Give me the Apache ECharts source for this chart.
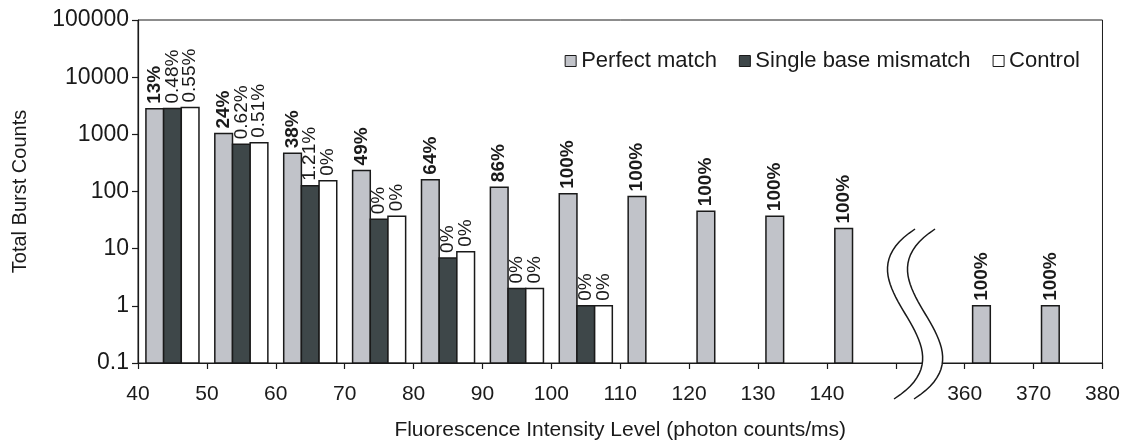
<!DOCTYPE html>
<html>
<head>
<meta charset="utf-8">
<script src="https://cdn.jsdelivr.net/npm/echarts@6/dist/echarts.min.js"></script>
<style>
html,body{margin:0;padding:0;background:#fff;}
#chart{width:1123px;height:446px;}
</style>
</head>
<body>
<div id="chart"></div>
<script>
// ---- data ----
const categories = ['40','50','60','70','80','90','100','110','120','130','140','break','360','370'];
const xTickLabels = ['40','50','60','70','80','90','100','110','120','130','140','','360','370','380'];
const yTickLabels = ['0.1','1','10','100','1000','10000','100000'];
const perfectMatch = [2800, 1030, 465, 234, 161, 119, 91, 82, 45, 37, 22.5, null, 1, 1];
const singleMismatch = [2830, 670, 126, 32.6, 6.9, 2, 1, null, null, null, null, null, null, null];
const control = [2950, 710, 154, 36.8, 8.8, 2, 1, null, null, null, null, null, null, null];
const perfectLabels = ['13%','24%','38%','49%','64%','86%','100%','100%','100%','100%','100%','','100%','100%'];
const mismatchLabels = ['0.48%','0.62%','1.21%','0%','0%','0%','0%','','','','','','',''];
const controlLabels = ['0.55%','0.51%','0%','0%','0%','0%','0%','','','','','','',''];
const seriesNames = ['Perfect match','Single base mismatch','Control'];

const FONT = '"Liberation Sans", Arial, Helvetica, sans-serif';
const INK = '#1a1a1a';
const COLORS = ['#c1c3c9', '#3e4749', '#ffffff'];
const CAT_GAP = 0.23;
const Y_BASE = 0.1;

const chart = echarts.init(document.getElementById('chart'), null, {renderer:'canvas'});

function makeSeries(k, values, labels, bold){
  const data = [];
  values.forEach((v, i) => { if (v !== null) data.push([i, v, labels[i]]); });
  return {
    name: seriesNames[k],
    type: 'custom',
    xAxisIndex: 0,
    itemStyle: {color: COLORS[k], borderColor: INK, borderWidth: 1.5},
    encode: {x: 0, y: 1},
    data: data,
    renderItem: function(params, api){
      const cat = api.value(0), val = api.value(1);
      const bandW = api.size([1, 0])[0];
      const barW = bandW * (1 - CAT_GAP) / 3;
      const topPt = api.coord([cat, val]);
      const basePt = api.coord([cat, Y_BASE]);
      const x = topPt[0] - 1.5 * barW + k * barW;
      const lab = labels[cat] || '';
      return {
        type: 'group',
        children: [
          {type: 'rect', shape: {x: x, y: topPt[1], width: barW, height: basePt[1] - topPt[1]},
           style: {fill: COLORS[k], stroke: INK, lineWidth: 1.5}},
          {type: 'text', x: x + barW / 2, y: topPt[1] - 5, rotation: Math.PI / 2,
           style: {text: lab, fill: INK, font: (bold ? 'bold ' : '') + '19px ' + FONT,
                   align: 'left', verticalAlign: 'middle'}}
        ]
      };
    }
  };
}

const option = {
  animation: false,
  textStyle: {fontFamily: FONT},
  grid: {left: 138, right: 15, top: 20, bottom: 79, show: true, borderColor: INK, borderWidth: 1, backgroundColor: 'transparent'},
  legend: {
    data: seriesNames.map((n, k) => ({name: n, itemStyle: {color: COLORS[k], borderColor: INK, borderWidth: 1}})),
    right: 38, top: 45,
    icon: 'rect',
    itemWidth: 11, itemHeight: 11, itemGap: 22,
    textStyle: {fontFamily: FONT, fontSize: 22, color: INK}
  },
  xAxis: [
    {
      type: 'category', data: categories, boundaryGap: true,
      axisLine: {show: false}, axisTick: {show: false}, axisLabel: {show: false}
    },
    {
      type: 'value', min: 0, max: 14, interval: 1, position: 'bottom',
      axisLine: {show: true, lineStyle: {color: INK, width: 1.2}},
      axisTick: {show: true, length: 6, lineStyle: {color: INK, width: 1.2}},
      splitLine: {show: false},
      axisLabel: {fontFamily: FONT, fontSize: 21, color: INK, margin: 21, formatter: (v) => xTickLabels[Math.round(v)]},
      name: 'Fluorescence Intensity Level (photon counts/ms)',
      nameLocation: 'middle', nameGap: 57,
      nameTextStyle: {fontFamily: FONT, fontSize: 21, color: INK}
    }
  ],
  yAxis: {
    type: 'log', logBase: 10, min: 0.1, max: 100000,
    axisLine: {show: true, lineStyle: {color: INK, width: 1.2}},
    axisTick: {show: true, length: 6, lineStyle: {color: INK, width: 1.2}},
    splitLine: {show: false},
    minorTick: {show: false},
    axisLabel: {fontFamily: FONT, fontSize: 23, color: INK, margin: 9,
      formatter: (v) => yTickLabels[Math.round(Math.log10(v)) + 1]},
    name: 'Total Burst Counts', nameLocation: 'middle', nameGap: 108,
    nameTextStyle: {fontFamily: FONT, fontSize: 20, color: INK}
  },
  series: [
    makeSeries(0, perfectMatch, perfectLabels, true),
    makeSeries(1, singleMismatch, mismatchLabels, false),
    makeSeries(2, control, controlLabels, false)
  ]
};
chart.setOption(option);

// ---- axis break symbol (decoration, anchored via the axes) ----
function drawBreak(){
  const cx = chart.convertToPixel({xAxisIndex: 1}, 11.25);
  const yb = chart.convertToPixel({yAxisIndex: 0}, 0.1);
  const p0 = [2, -134], c1 = [-85, -77], c2 = [70, -21], p3 = [-19, 36];
  function bez(t, dx){
    const u = 1 - t;
    const x = u*u*u*p0[0] + 3*u*u*t*c1[0] + 3*u*t*t*c2[0] + t*t*t*p3[0];
    const y = u*u*u*p0[1] + 3*u*u*t*c1[1] + 3*u*t*t*c2[1] + t*t*t*p3[1];
    return [cx + x + dx, yb + y];
  }
  const N = 40, gap = 20;
  const a = [], b = [];
  for (let i = 0; i <= N; i++){ a.push(bez(i/N, 0)); b.push(bez(i/N, gap)); }
  const poly = a.concat(b.slice().reverse());
  chart.setOption({
    graphic: [
      {type: 'polygon', shape: {points: poly}, style: {fill: '#fff', stroke: null}, z: 100},
      {type: 'polyline', shape: {points: a}, style: {stroke: INK, lineWidth: 1.5, fill: null}, z: 101},
      {type: 'polyline', shape: {points: b}, style: {stroke: INK, lineWidth: 1.5, fill: null}, z: 101}
    ]
  });
}
drawBreak();
</script>
</body>
</html>
